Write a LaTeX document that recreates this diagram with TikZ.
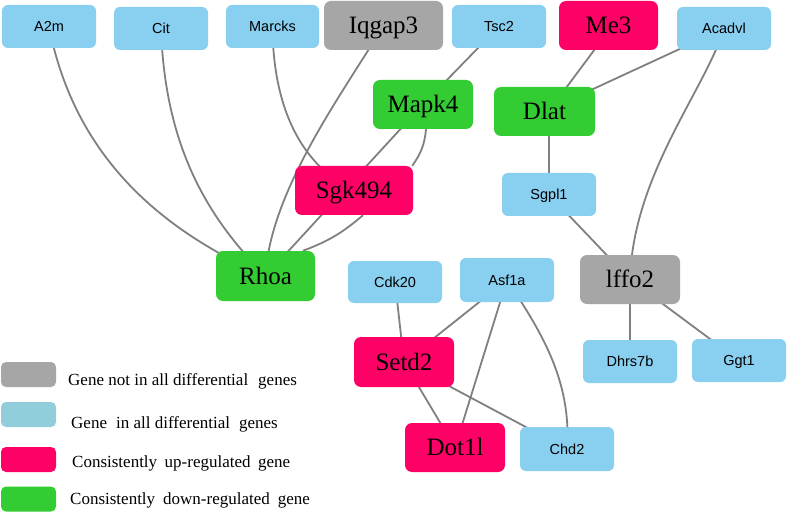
\documentclass[tikz,border=0pt]{standalone}
\usepackage{fontspec}
\setmainfont{Liberation Serif}
\newfontfamily\arialf{Liberation Sans}
\usetikzlibrary{backgrounds,calc}
\definecolor{gblue}{RGB}{137,207,240}
\definecolor{ggray}{RGB}{166,166,166}
\definecolor{gpink}{RGB}{255,0,102}
\definecolor{ggreen}{RGB}{51,204,51}
\definecolor{lblue}{RGB}{146,205,220}
\definecolor{edgegray}{RGB}{128,128,128}
\begin{document}
\begin{tikzpicture}[x=1pt,y=-1pt,
  edge/.style={draw=edgegray,line width=1.8pt},
  bluebox/.style={rectangle,rounded corners=6pt,fill=gblue,minimum width=94pt,minimum height=43pt,inner sep=0pt,text height=10.4pt,text depth=0pt,font=\arialf\fontsize{14.5}{16}\selectfont},
  bigbox/.style={rectangle,rounded corners=7pt,minimum width=100pt,minimum height=49pt,inner sep=0pt,text height=16.5pt,text depth=0pt,font=\fontsize{25}{28}\selectfont},
  graybox/.style={bigbox,fill=ggray},
  pinkbox/.style={bigbox,fill=gpink},
  greenbox/.style={bigbox,fill=ggreen},
  legbox/.style={rectangle,rounded corners=5pt,minimum width=55pt,minimum height=25pt,inner sep=0pt},
  legtext/.style={anchor=base west,inner sep=0pt,font=\fontsize{17}{20}\selectfont}
]
\useasboundingbox (0,0) rectangle (787,513);

% top row
\node[bluebox] (A2m) at (49,26.5) {A2m};
\node[bluebox] (Cit) at (161,28.5) {Cit};
\node[bluebox,minimum width=93pt] (Marcks) at (272.5,26.5) {Marcks};
\node[graybox,minimum width=119pt] (Iqgap3) at (383.5,25.5) {Iqgap3};
\node[bluebox] (Tsc2) at (499,26.5) {Tsc2};
\node[pinkbox,minimum width=99pt] (Me3) at (608.5,25.5) {Me3};
\node[bluebox] (Acadvl) at (724,28.5) {Acadvl};
% middle
\node[greenbox] (Mapk4) at (423,104.5) {Mapk4};
\node[greenbox,minimum width=101pt] (Dlat) at (544.5,111.5) {Dlat};
\node[pinkbox,minimum width=118pt] (Sgk494) at (354,190.5) {Sgk494};
\node[bluebox] (Sgpl1) at (549,194.5) {Sgpl1};
\node[greenbox,minimum width=99pt,minimum height=50pt] (Rhoa) at (265.5,276) {Rhoa};
\node[bluebox,minimum height=42pt] (Cdk20) at (395,282) {Cdk20};
\node[bluebox,minimum height=44pt] (Asf1a) at (507,280) {Asf1a};
\node[graybox] (Iffo2) at (630,279.5) {lffo2};
\node[pinkbox,minimum height=50pt] (Setd2) at (404,362) {Setd2};
\node[bluebox] (Dhrs7b) at (630,361.5) {Dhrs7b};
\node[bluebox] (Ggt1) at (739,360.5) {Ggt1};
\node[pinkbox] (Dot1l) at (455,447.5) {Dot1l};
\node[bluebox,minimum height=44pt] (Chd2) at (567,449) {Chd2};

% legend
\node[legbox,fill=ggray] (lg1) at (28.5,374.5) {};
\node[legbox,fill=lblue] (lg2) at (28.5,414.5) {};
\node[legbox,fill=gpink] (lg3) at (28.5,459.5) {};
\node[legbox,fill=ggreen] (lg4) at (28.5,499) {};
\node[legtext] (lt1) at (68,385) {Gene not in all differential\hspace{10pt}genes};
\node[legtext] (lt2) at (71,428) {Gene\hspace{9pt}in all differential\hspace{9pt}genes};
\node[legtext] (lt3) at (72,467) {Consistently\hspace{7.5pt}up-regulated\hspace{7.5pt}gene};
\node[legtext] (lt4) at (70,504.5) {Consistently\hspace{8pt}down-regulated\hspace{8pt}gene};

\begin{scope}[on background layer]
\fill[white] (0,0) rectangle (787,513);
\path[edge] (A2m.center) .. controls (75,160) and (165,232) .. (Rhoa.center);
\path[edge] (Cit.center) .. controls (165,150) and (210,220) .. (Rhoa.center);
\path[edge] (Marcks.center) .. controls (273,120) and (310,170) .. (Sgk494.center);
\path[edge] (Iqgap3.center) .. controls (345,90) and (270,190) .. (Rhoa.center);
\path[edge] (Mapk4.center) -- ([xshift=-10pt]Sgk494.center);
\path[edge] ([xshift=-10pt]Sgk494.center) -- (Rhoa.center);
\path[edge] (Mapk4.277) to[bend left=15] (Sgk494.23);
\path[edge] (Sgk494.290) to[bend left=10] (Rhoa.34);
\path[edge] (Tsc2.center) -- (Mapk4.center);
\path[edge] ([xshift=4pt]Me3.center) -- ([xshift=4pt]Dlat.center);
\path[edge] (Acadvl.center) -- (Dlat.center);
\path[edge] (Acadvl.center) .. controls (705,90) and (633,175) .. (Iffo2.center);
\path[edge] (Dlat.center -| Sgpl1.center) -- (Sgpl1.center);
\path[edge] (Sgpl1.center) -- (Iffo2.center);
\path[edge] (Cdk20.center) -- (Setd2.center);
\path[edge] (Asf1a.center) -- (Setd2.center);
\path[edge] (Asf1a.center) -- (Dot1l.center);
\path[edge] (Asf1a.center) .. controls (540,330) and (572,380) .. (Chd2.center);
\path[edge] (Setd2.center) -- (Dot1l.center);
\path[edge] (Setd2.center) -- (Chd2.center);
\path[edge] (Iffo2.center) -- (Dhrs7b.center);
\path[edge] (Iffo2.center) -- (Ggt1.center);
\end{scope}
\end{tikzpicture}
\end{document}
